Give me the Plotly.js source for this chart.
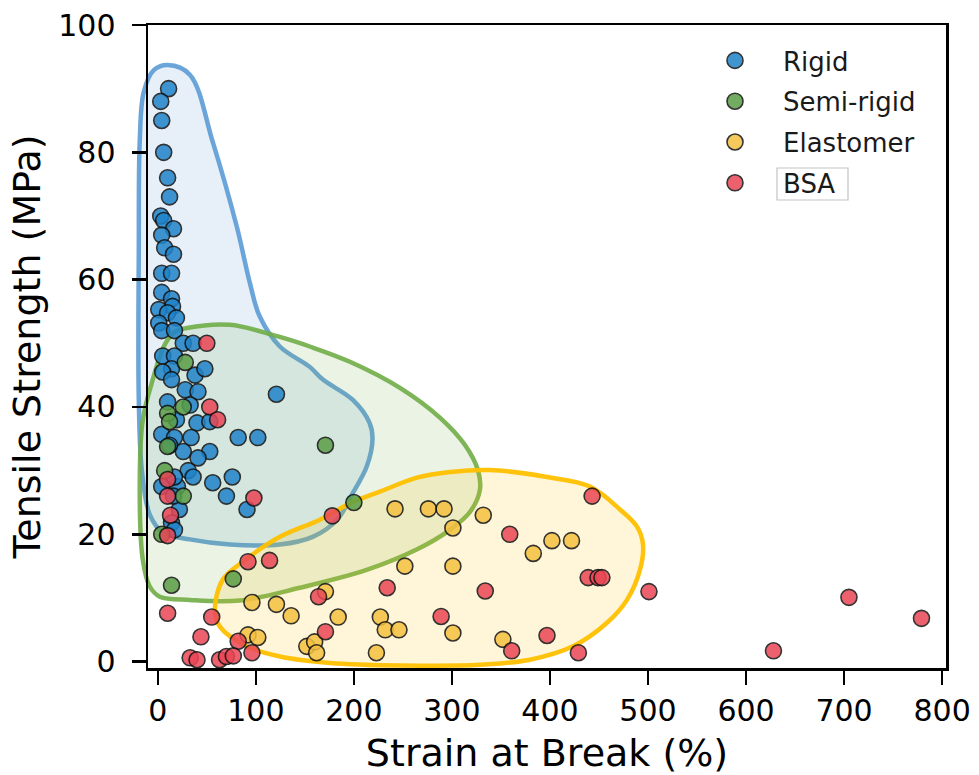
<!DOCTYPE html>
<html>
<head>
<meta charset="utf-8">
<script src="https://cdn.plot.ly/plotly-3.0.1.min.js"></script>
<style>
  html, body { margin: 0; padding: 0; background: #fff; }
  #chart { width: 979px; height: 775px; }
</style>
</head>
<body>
<div id="chart"></div>
<script>
// Strain at break (%) and tensile strength (MPa) per material class
const rigidStrain = [11, 3, 4, 6, 10, 12, 3, 6, 16, 4, 7, 16, 4, 14, 4, 14, 15, 1, 10, 19, 1, 4, 17, 26, 36, 5, 17, 14, 5, 14, 38, 48, 28, 41, 10, 33, 40, 53, 4, 17, 34, 82, 102, 26, 53, 41, 31, 36, 4, 20, 56, 76, 70, 91, 22, 14, 121, 19, 12, 17, 16, 17];
const rigidStrength = [90, 88, 85, 80, 76, 73, 70, 69.3, 68, 67, 65, 64, 61, 61, 58, 57, 55.8, 55.3, 54.8, 54, 53.2, 52, 52, 50, 50, 48, 48, 46, 45.5, 44.3, 45, 46, 42.7, 42.4, 40.8, 40.3, 37.5, 37.7, 35.7, 35.2, 35.2, 35.2, 35.2, 33, 33, 32, 30, 29, 27.5, 27.5, 28.1, 29, 26, 23.9, 23.9, 21.8, 42, 38, 34, 29, 26, 20.7];

const semiStrain = [28, 26, 10, 12, 10, 7, 26, 4, 14, 77, 171, 200];
const semiStrength = [47, 40, 39, 37.7, 33.8, 30, 26, 20, 12, 13, 34, 25];

const elastomerStrain = [96, 121, 136, 171, 184, 92, 102, 152, 160, 162, 242, 276, 292, 332, 301, 252, 301, 227, 232, 246, 301, 223, 352, 402, 422, 383];
const elastomerStrength = [9.3, 9, 7.2, 11, 7, 4.2, 3.8, 2.4, 3.1, 1.4, 24, 24, 24, 23, 21, 15, 15, 7, 5, 5, 4.5, 1.4, 3.5, 19, 19, 17];

const bsaStrain = [50, 53, 61, 10, 10, 13, 10, 98, 178, 10, 55, 44, 82, 92, 114, 164, 171, 234, 289, 334, 359, 361, 397, 443, 439, 449, 453, 429, 501, 628, 705, 779, 33, 40, 63, 70, 77, 96];
const bsaStrength = [50, 40, 38, 28.6, 26, 23, 19.8, 25.7, 22.9, 7.6, 7, 3.9, 3.2, 15.7, 15.9, 10.2, 4.7, 11.6, 7.1, 11.1, 20, 1.7, 4.1, 26, 13.2, 13.2, 13.2, 1.4, 11, 1.7, 10.1, 6.8, 0.6, 0.3, 0.3, 0.8, 0.9, 1.4];

// Outlines of the region occupied by each class
const rigidRegionX = [10.2, 32.7, 56.1, 80.6, 93.9, 104, 124.5, 155, 168.4, 199, 216, 219, 213, 199, 183, 158, 124.5, 73.5, 32.7, 5.1, -8.2, -16.3, -19.4, -19.4, -18.4, -14.3, -4.1];
const rigidRegionY = [93.7, 92.2, 81.6, 68.3, 59.5, 54.2, 49.5, 46.3, 44.3, 41.1, 37.5, 34.9, 30.6, 26.5, 22.3, 19.6, 18.4, 18.4, 19.2, 20.3, 23.1, 30.1, 41.1, 64.7, 81.9, 89.5, 92.9];

const semiRegionX = [29.6, 73.5, 124.5, 155, 196, 247, 288, 313, 326.5, 328.6, 318.4, 298, 264, 213, 145, 83.7, 32.7, 2, -8.2, -15.3, -18.4, -15.3, -6.1, 7.1, 17.3];
const semiRegionY = [52.4, 52.9, 51.0, 49.5, 47.1, 43.0, 38.3, 34.1, 30.1, 27.0, 23.5, 20.7, 17.6, 14.4, 11.6, 9.6, 9.7, 10.2, 11.8, 16.0, 28.6, 38.0, 43.8, 49.8, 51.8];

const elastomerRegionX = [58.2, 66.3, 86.7, 124.5, 165.3, 199, 226.5, 264.3, 298, 338.8, 397, 440.8, 471.4, 488.8, 494.9, 491.8, 478.6, 458.2, 423.5, 379.6, 328.6, 247, 175.5, 124.5, 90.8, 63.3];
const elastomerRegionY = [8.2, 12.9, 15.7, 19.6, 22.3, 25.1, 26.7, 28.9, 29.8, 30.1, 29.0, 27.5, 23.9, 21.2, 18.4, 14.4, 9.7, 6.1, 2.4, 0.3, -0.5, -0.6, -0.2, 0.8, 2.4, 5.5];

const strainTicks = [0, 100, 200, 300, 400, 500, 600, 700, 800];
const strengthTicks = [0, 20, 40, 60, 80, 100];

// Page and plotting-area geometry (px)
const W = 979, H = 775;
const plotL = 148, plotR = 946, plotT = 25, plotB = 668;
const xRange = [-10, 804], yRange = [-1, 100];

// A second, page-wide pair of axes with the same scale lets the
// region outlines spill past the frame instead of being clipped.
const sx = (plotR - plotL) / (xRange[1] - xRange[0]);
const sy = (plotB - plotT) / (yRange[1] - yRange[0]);
const pageX = [xRange[0] - plotL / sx, xRange[1] + (W - plotR) / sx];
const pageY = [yRange[0] - (H - plotB) / sy, yRange[1] + plotT / sy];

function region(xs, ys, lineColor, fillColor) {
  return {
    type: 'scatter', mode: 'lines',
    x: xs.concat([xs[0]]), y: ys.concat([ys[0]]),
    xaxis: 'x', yaxis: 'y',
    fill: 'toself', fillcolor: fillColor,
    line: { color: lineColor, width: 4.5, shape: 'spline', smoothing: 1 },
    hoverinfo: 'skip', showlegend: false
  };
}

function group(name, xs, ys, color) {
  return {
    type: 'scatter', mode: 'markers', name: name, legendgroup: name,
    x: xs, y: ys, xaxis: 'x2', yaxis: 'y2', cliponaxis: false,
    marker: { size: 16, color: color, opacity: 0.85, line: { color: '#111', width: 1.6 } }
  };
}

const traces = [
  region(rigidRegionX, rigidRegionY, 'rgba(91,155,213,0.9)', 'rgba(91,155,213,0.15)'),
  region(semiRegionX, semiRegionY, 'rgba(112,173,71,0.9)', 'rgba(112,173,71,0.15)'),
  region(elastomerRegionX, elastomerRegionY, 'rgba(255,192,0,0.95)', 'rgba(255,192,0,0.15)'),
  group('Rigid', rigidStrain, rigidStrength, '#1f83c9'),
  group('Semi-rigid', semiStrain, semiStrength, '#5a9e45'),
  group('Elastomer', elastomerStrain, elastomerStrength, '#f5c040'),
  group('BSA', bsaStrain, bsaStrength, '#ea4655')
];

const axisStyle = {
  ticks: 'outside', ticklen: 14, tickwidth: 2.5, tickcolor: '#000',
  showline: true, linewidth: 2.5, linecolor: '#000', mirror: true,
  showgrid: false, zeroline: false,
  tickfont: { size: 30, color: '#000' }, fixedrange: true
};

const layout = {
  width: W, height: H,
  margin: { l: 0, r: 0, t: 0, b: 0 },
  paper_bgcolor: '#fff', plot_bgcolor: 'rgba(0,0,0,0)',
  font: { family: 'DejaVu Sans, sans-serif', color: '#000' },
  xaxis: { domain: [0, 1], range: pageX, visible: false, fixedrange: true },
  yaxis: { domain: [0, 1], range: pageY, visible: false, fixedrange: true },
  xaxis2: Object.assign({}, axisStyle, {
    domain: [plotL / W, plotR / W], anchor: 'y2', range: xRange,
    tickmode: 'array', tickvals: strainTicks, ticklabelstandoff: 0,
    title: { text: 'Strain at Break (%)', font: { size: 38 }, standoff: 20 }
  }),
  yaxis2: Object.assign({}, axisStyle, {
    domain: [1 - plotB / H, 1 - plotT / H], anchor: 'x2', range: yRange,
    tickmode: 'array', tickvals: strengthTicks, ticklabelstandoff: 10,
    title: { text: 'Tensile Strength (MPa)', font: { size: 38 }, standoff: 6 }
  }),
  showlegend: true,
  legend: {
    x: 687 / W, xanchor: 'left', y: 1 - 37 / H, yanchor: 'top',
    bgcolor: 'rgba(0,0,0,0)', borderwidth: 0,
    font: { size: 26, color: '#1a1a1a' },
    itemwidth: 86, tracegroupgap: 4
  },
  shapes: [{
    type: 'rect', xref: 'paper', yref: 'paper',
    x0: 777 / W, x1: 848 / W, y0: 1 - 200 / H, y1: 1 - 168 / H,
    line: { color: '#c4c4c4', width: 1.2 }
  }]
};

Plotly.newPlot('chart', traces, layout, { staticPlot: true, displayModeBar: false });
</script>
</body>
</html>
